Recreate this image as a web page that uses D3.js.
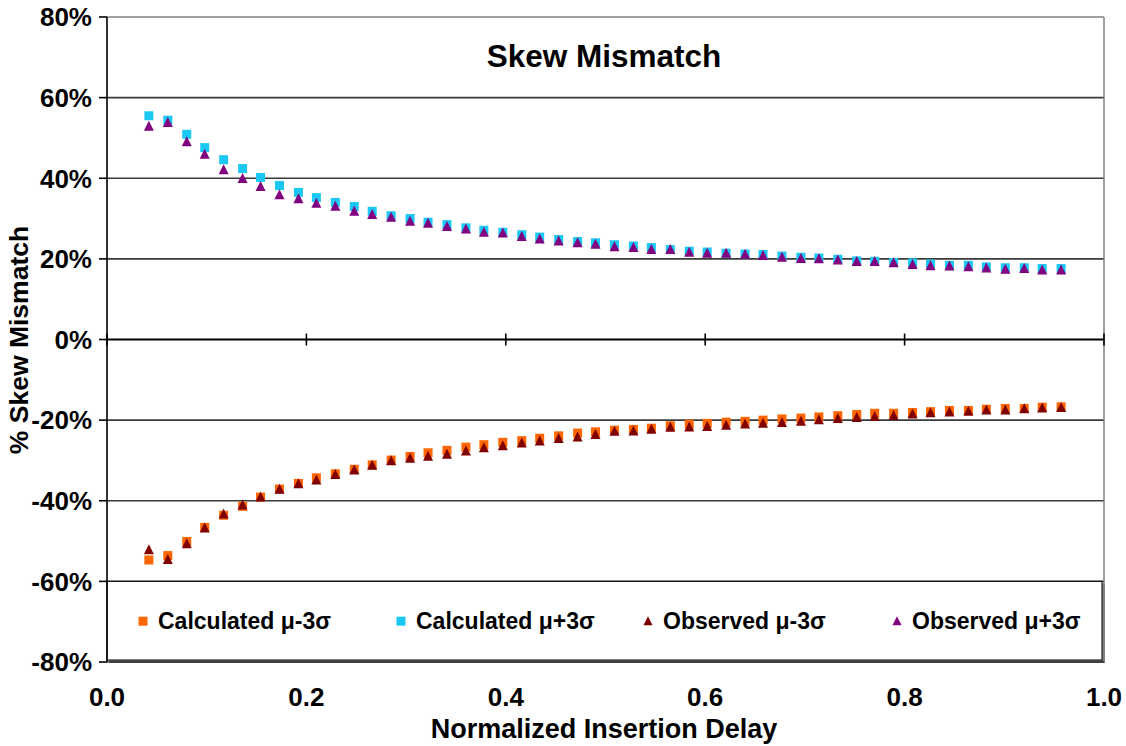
<!DOCTYPE html>
<html>
<head>
<meta charset="utf-8">
<script src="https://cdn.jsdelivr.net/npm/d3@7"></script>
<style>
  html, body { margin: 0; padding: 0; background: #fff; }
  svg { display: block; }
  text { font-family: Arial, "Liberation Sans", sans-serif; font-weight: bold; fill: #000; }
</style>
</head>
<body>
<div id="chart"></div>
<script>
(function () {
  'use strict';

  // normalized insertion delay (x)
  var X_VALUES = [
    0.042, 0.061, 0.080, 0.098, 0.117, 0.136, 0.154, 0.173, 0.192, 0.210,
    0.229, 0.248, 0.266, 0.285, 0.304, 0.322, 0.341, 0.360, 0.378, 0.397,
    0.416, 0.434, 0.453, 0.472, 0.490, 0.509, 0.528, 0.546, 0.565, 0.584,
    0.602, 0.621, 0.640, 0.658, 0.677, 0.696, 0.714, 0.733, 0.752, 0.770,
    0.789, 0.808, 0.826, 0.845, 0.864, 0.882, 0.901, 0.920, 0.938, 0.957
  ];

  // % skew mismatch per series
  var CALC_MINUS = [
    -54.7, -53.6, -50.1, -46.6, -43.6, -41.4, -39.1, -37.1, -35.7, -34.3,
    -33.3, -32.2, -31.1, -29.9, -29.0, -28.1, -27.5, -26.7, -26.1, -25.5,
    -25.1, -24.5, -23.9, -23.2, -22.9, -22.5, -22.3, -22.0, -21.4, -21.0,
    -20.8, -20.5, -20.3, -20.0, -19.7, -19.5, -19.2, -18.9, -18.6, -18.3,
    -18.3, -18.1, -17.9, -17.6, -17.6, -17.3, -17.1, -17.1, -16.8, -16.7
  ];
  var CALC_PLUS = [
    55.5, 54.4, 50.9, 47.6, 44.6, 42.4, 40.2, 38.2, 36.5, 35.2,
    34.0, 33.0, 31.8, 30.7, 30.0, 29.1, 28.5, 27.7, 27.1, 26.6,
    26.0, 25.4, 24.8, 24.3, 24.0, 23.5, 23.2, 22.8, 22.3, 21.9,
    21.7, 21.4, 21.2, 21.1, 20.7, 20.4, 20.2, 19.9, 19.5, 19.4,
    19.1, 19.0, 18.7, 18.4, 18.4, 18.0, 17.8, 17.8, 17.6, 17.6
  ];
  var OBS_MINUS = [
    -52.3, -54.7, -50.8, -46.9, -43.4, -41.2, -39.2, -37.3, -35.9, -35.0,
    -33.6, -32.5, -31.3, -30.2, -29.6, -29.1, -28.6, -27.8, -27.0, -26.5,
    -25.8, -25.3, -24.7, -24.3, -23.7, -22.9, -22.8, -22.4, -21.9, -21.8,
    -21.7, -21.4, -21.1, -20.9, -20.7, -20.4, -20.0, -19.7, -19.5, -19.2,
    -19.0, -18.6, -18.3, -18.1, -17.9, -17.6, -17.6, -17.3, -17.1, -17.0
  ];
  var OBS_PLUS = [
    52.8, 53.7, 48.9, 45.8, 42.0, 39.8, 37.8, 35.8, 34.8, 33.7,
    32.9, 31.7, 30.9, 30.2, 29.2, 28.7, 27.9, 27.3, 26.5, 26.3,
    25.4, 24.8, 24.3, 23.9, 23.5, 22.9, 22.7, 22.2, 22.2, 21.5,
    21.3, 21.3, 21.0, 20.7, 20.3, 20.0, 19.9, 19.6, 19.2, 19.2,
    18.9, 18.5, 18.2, 18.1, 17.9, 17.6, 17.3, 17.5, 17.1, 17.1
  ];

  var SERIES_NAMES = ['Calculated \u03bc-3\u03c3', 'Calculated \u03bc+3\u03c3', 'Observed \u03bc-3\u03c3', 'Observed \u03bc+3\u03c3'];
  var X_TICKS = [0, 0.2, 0.4, 0.6, 0.8, 1.0];
  var Y_TICKS = [80, 60, 40, 20, 0, -20, -40, -60, -80];

  var WIDTH = 1126, HEIGHT = 746;
  var PLOT = { left: 107, right: 1104, top: 17, bottom: 662 };

  var series = [
    { name: SERIES_NAMES[0], values: CALC_MINUS, color: '#FF6600', shape: 'square' },
    { name: SERIES_NAMES[1], values: CALC_PLUS,  color: '#1BC8F5', shape: 'square' },
    { name: SERIES_NAMES[2], values: OBS_MINUS,  color: '#800000', shape: 'triangle' },
    { name: SERIES_NAMES[3], values: OBS_PLUS,   color: '#800080', shape: 'triangle' }
  ];

  var x = d3.scaleLinear().domain([0, 1]).range([PLOT.left, PLOT.right]);
  var y = d3.scaleLinear().domain([-80, 80]).range([PLOT.bottom, PLOT.top]);

  var svg = d3.select('#chart').append('svg')
    .attr('width', WIDTH)
    .attr('height', HEIGHT);

  // gridlines
  svg.append('g').selectAll('line')
    .data(Y_TICKS.filter(function (d) { return d !== 0 && d !== -80; }))
    .enter().append('line')
    .attr('x1', PLOT.left).attr('x2', PLOT.right)
    .attr('y1', function (d) { return y(d); })
    .attr('y2', function (d) { return y(d); })
    .attr('stroke', function (d) { return d === 80 ? '#808080' : '#3a3a3a'; })
    .attr('stroke-width', 1.6);

  // plot area right border
  svg.append('line')
    .attr('x1', PLOT.right).attr('x2', PLOT.right)
    .attr('y1', PLOT.top).attr('y2', PLOT.bottom)
    .attr('stroke', '#808080').attr('stroke-width', 1.5);

  // legend box (sits in the bottom band of the plot)
  var legTop = y(-60), legBottom = y(-80) - 1;
  svg.append('rect')
    .attr('x', PLOT.left + 2).attr('y', legTop + 2)
    .attr('width', PLOT.right - PLOT.left - 1).attr('height', legBottom - legTop)
    .attr('fill', '#808080');
  svg.append('rect')
    .attr('x', PLOT.left).attr('y', legTop)
    .attr('width', PLOT.right - PLOT.left - 2).attr('height', legBottom - legTop - 1)
    .attr('fill', '#fff').attr('stroke', '#000').attr('stroke-width', 1);

  var legendX = [143, 401, 648, 897];
  var legY = (legTop + legBottom) / 2;
  var legend = svg.append('g').attr('class', 'legend');
  series.forEach(function (s, i) {
    var cx = legendX[i];
    if (s.shape === 'square') {
      legend.append('rect')
        .attr('x', cx - 4.5).attr('y', legY - 4.5)
        .attr('width', 9).attr('height', 9)
        .attr('fill', s.color);
    } else {
      legend.append('path')
        .attr('transform', 'translate(' + cx + ',' + legY + ')')
        .attr('d', 'M0,-5L4.5,4L-4.5,4Z')
        .attr('fill', s.color);
    }
    legend.append('text')
      .attr('x', cx + 15).attr('y', legY)
      .attr('dy', '0.36em')
      .attr('font-size', '23px')
      .text(s.name);
  });

  // zero line with crossing ticks
  svg.append('line')
    .attr('x1', PLOT.left).attr('x2', PLOT.right)
    .attr('y1', y(0)).attr('y2', y(0))
    .attr('stroke', '#000').attr('stroke-width', 2);
  svg.append('g').selectAll('line')
    .data(X_TICKS)
    .enter().append('line')
    .attr('x1', function (d) { return x(d); })
    .attr('x2', function (d) { return x(d); })
    .attr('y1', y(0) - 6).attr('y2', y(0) + 6)
    .attr('stroke', '#000').attr('stroke-width', 1.6);

  // markers
  series.forEach(function (s) {
    var g = svg.append('g').attr('class', 'series');
    if (s.shape === 'square') {
      g.selectAll('rect')
        .data(s.values)
        .enter().append('rect')
        .attr('x', function (d, i) { return x(X_VALUES[i]) - 4.5; })
        .attr('y', function (d) { return y(d) - 4.5; })
        .attr('width', 9).attr('height', 9)
        .attr('fill', s.color);
    } else {
      g.selectAll('path')
        .data(s.values)
        .enter().append('path')
        .attr('transform', function (d, i) {
          return 'translate(' + x(X_VALUES[i]) + ',' + y(d) + ')';
        })
        .attr('d', 'M0,-6L5,4L-5,4Z')
        .attr('fill', s.color);
    }
  });

  // left axis
  svg.append('line')
    .attr('x1', PLOT.left).attr('x2', PLOT.left)
    .attr('y1', PLOT.top).attr('y2', PLOT.bottom)
    .attr('stroke', '#000').attr('stroke-width', 1.6);
  svg.append('g').selectAll('line')
    .data(Y_TICKS)
    .enter().append('line')
    .attr('x1', PLOT.left - 8).attr('x2', PLOT.left)
    .attr('y1', function (d) { return y(d); })
    .attr('y2', function (d) { return y(d); })
    .attr('stroke', '#000').attr('stroke-width', 1.6);

  // bottom edge
  svg.append('line')
    .attr('x1', PLOT.left).attr('x2', PLOT.right)
    .attr('y1', PLOT.bottom).attr('y2', PLOT.bottom)
    .attr('stroke', '#000').attr('stroke-width', 1.2);

  // y tick labels
  svg.append('g').selectAll('text')
    .data(Y_TICKS)
    .enter().append('text')
    .attr('x', 92)
    .attr('y', function (d) { return y(d); })
    .attr('dy', '0.36em')
    .attr('text-anchor', 'end')
    .attr('font-size', '26px')
    .text(function (d) { return d + '%'; });

  // x tick labels
  svg.append('g').selectAll('text')
    .data(X_TICKS)
    .enter().append('text')
    .attr('x', function (d) { return x(d); })
    .attr('y', 706)
    .attr('text-anchor', 'middle')
    .attr('font-size', '26px')
    .text(function (d) { return d3.format('.1f')(d); });

  // titles
  svg.append('text')
    .attr('x', 604).attr('y', 67)
    .attr('text-anchor', 'middle')
    .attr('font-size', '31.5px')
    .text('Skew Mismatch');

  svg.append('text')
    .attr('x', 604).attr('y', 738)
    .attr('text-anchor', 'middle')
    .attr('font-size', '27px')
    .text('Normalized Insertion Delay');

  svg.append('text')
    .attr('transform', 'translate(28,340) rotate(-90)')
    .attr('text-anchor', 'middle')
    .attr('font-size', '26.5px')
    .text('% Skew Mismatch');
})();
</script>
</body>
</html>
